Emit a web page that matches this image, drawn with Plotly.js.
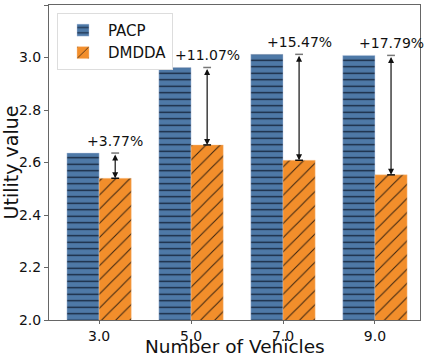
<!DOCTYPE html>
<html>
<head>
<meta charset="utf-8">
<script src="https://cdn.plot.ly/plotly-3.0.1.min.js"></script>
<style>html,body{margin:0;padding:0;background:#fff;}#chart{width:425px;height:357px;}</style>
</head>
<body>
<div id="chart"></div>
<script>
const vehicles = [3, 5, 7, 9];
const tickLabels = ['3.0', '5.0', '7.0', '9.0'];
const pacp = [2.636, 2.962, 3.012, 3.008];
const dmdda = [2.540, 2.667, 2.6085, 2.553];
const gains = ['+3.77%', '+11.07%', '+15.47%', '+17.79%'];

const FONT = 'DejaVu Sans, sans-serif';
const W = 0.7;
const BLUE = '#4e79a7';
const ORANGE = '#f28e2b';

const traces = [
  {
    type: 'bar', name: 'PACP', x: vehicles, y: pacp, width: W, offset: -W,
    marker: {color: BLUE, line: {color: 'rgba(190,205,230,0.7)', width: 0.6},
      pattern: {shape: '-', fillmode: 'replace', bgcolor: BLUE, fgcolor: '#15233a', size: 6.5, solidity: 0.2}}
  },
  {
    type: 'bar', name: 'DMDDA', x: vehicles, y: dmdda, width: W, offset: 0,
    marker: {color: ORANGE, line: {color: 'rgba(250,205,160,0.7)', width: 0.6},
      pattern: {shape: '/', fillmode: 'replace', bgcolor: ORANGE, fgcolor: '#3a2410', size: 10, solidity: 0.1}}
  }
];

const annotations = [];
const shapes = [];
vehicles.forEach((v, i) => {
  const xc = v + W / 2;
  annotations.push({
    x: xc, y: dmdda[i], ax: xc, ay: pacp[i], xref: 'x', yref: 'y', axref: 'x', ayref: 'y',
    showarrow: true, arrowside: 'end+start', arrowhead: 2, startarrowhead: 2,
    arrowsize: 1, startarrowsize: 1, arrowwidth: 1.2, arrowcolor: '#111', text: ''
  });
  annotations.push({
    x: xc, y: pacp[i], xref: 'x', yref: 'y', yshift: 12, showarrow: false,
    text: gains[i], font: {family: FONT, size: 14, color: '#111'}, yanchor: 'middle'
  });
  shapes.push({type: 'line', xref: 'x', yref: 'y', x0: xc - 0.085, x1: xc + 0.085,
    y0: pacp[i], y1: pacp[i], line: {color: '#777', width: 1.5}});
  shapes.push({type: 'line', xref: 'x', yref: 'y', x0: xc - 0.085, x1: xc + 0.085,
    y0: dmdda[i], y1: dmdda[i], line: {color: '#111', width: 1.5}});
});

// x-axis title drawn as a paper annotation so it can sit right at the bottom edge
annotations.push({
  xref: 'paper', yref: 'paper', x: 0.5, y: -0.085, yanchor: 'middle', showarrow: false,
  text: 'Number of Vehicles', font: {family: FONT, size: 18.5, color: '#111'}
});

const layout = {
  width: 425, height: 357,
  margin: {l: 49, r: 5, t: 5, b: 37},
  paper_bgcolor: '#fff', plot_bgcolor: '#fff',
  font: {family: FONT, color: '#111', size: 14},
  bargap: 0, barmode: 'overlay',
  xaxis: {
    range: [1.91, 9.98], tickvals: vehicles, ticktext: tickLabels,
    showline: true, mirror: true, linecolor: '#666', linewidth: 1,
    ticks: 'outside', ticklen: 3, tickcolor: '#666', showgrid: false, zeroline: false,
    tickfont: {family: FONT, size: 14, color: '#111'}
  },
  yaxis: {
    range: [2.0, 3.2], tickvals: [2.0, 2.2, 2.4, 2.6, 2.8, 3.0, 3.2],
    ticktext: ['2.0', '2.2', '2.4', '2.6', '2.8', '3.0', '3.2'],
    showline: true, mirror: true, linecolor: '#666', linewidth: 1,
    ticks: 'outside', ticklen: 4, tickcolor: '#666', showgrid: false, zeroline: false,
    tickfont: {family: FONT, size: 14, color: '#111'},
    title: {text: 'Utility value', font: {family: FONT, size: 19, color: '#111'}, standoff: 4}
  },
  legend: {
    x: 0.0216, y: 0.975, xanchor: 'left', yanchor: 'top',
    bgcolor: '#fff', bordercolor: '#ddd', borderwidth: 1,
    font: {family: FONT, size: 15, color: '#111'}, itemwidth: 40, tracegroupgap: 0
  },
  showlegend: true,
  annotations: annotations,
  shapes: shapes
};

Plotly.newPlot('chart', traces, layout, {displayModeBar: false, staticPlot: true});
</script>
</body>
</html>
